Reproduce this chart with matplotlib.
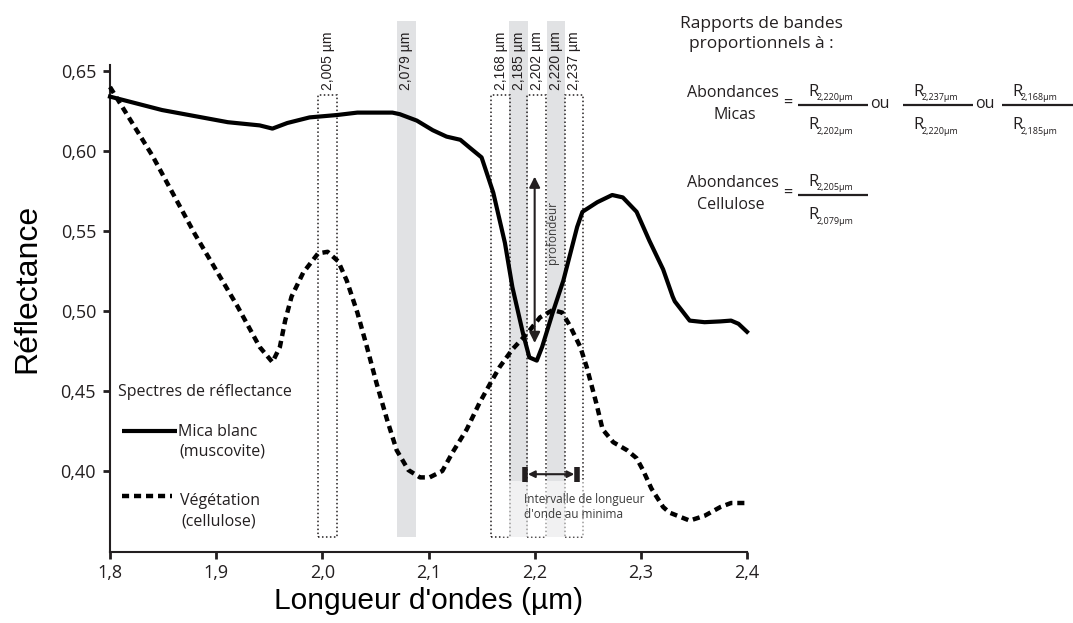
import matplotlib
matplotlib.use('Agg')
import matplotlib.pyplot as plt
from matplotlib.patches import Rectangle

# ---- spectra (wavelength in µm, reflectance) ----
wl_mica = [1.80, 1.849, 1.911, 1.941, 1.953, 1.967, 1.988, 2.014, 2.033, 2.066,
           2.073, 2.089, 2.104, 2.117, 2.130, 2.139, 2.150, 2.161, 2.172, 2.179,
           2.189, 2.195, 2.202, 2.207, 2.217, 2.227, 2.240, 2.245, 2.259, 2.273,
           2.283, 2.296, 2.308, 2.321, 2.330, 2.332, 2.346, 2.360, 2.375, 2.385,
           2.392, 2.400]
r_mica = [0.634, 0.6256, 0.618, 0.616, 0.614, 0.6175, 0.621, 0.6225, 0.624, 0.624,
          0.623, 0.619, 0.613, 0.609, 0.607, 0.602, 0.596, 0.574, 0.5425, 0.515,
          0.486, 0.471, 0.469, 0.4775, 0.499, 0.519, 0.5525, 0.562, 0.568, 0.5725,
          0.571, 0.562, 0.544, 0.526, 0.509, 0.506, 0.494, 0.493, 0.4935, 0.494,
          0.492, 0.487]

wl_veg = [1.80, 1.84, 1.88, 1.92, 1.941, 1.953, 1.960, 1.965, 1.971, 1.982,
          1.996, 2.005, 2.015, 2.023, 2.033, 2.042, 2.051, 2.061, 2.070, 2.081,
          2.092, 2.101, 2.113, 2.123, 2.136, 2.148, 2.158, 2.167, 2.179, 2.193,
          2.205, 2.217, 2.226, 2.233, 2.243, 2.249, 2.258, 2.264, 2.274, 2.287,
          2.296, 2.302, 2.310, 2.321, 2.327, 2.346, 2.360, 2.375, 2.385, 2.400]
r_veg = [0.640, 0.597, 0.548, 0.503, 0.4775, 0.468, 0.4775, 0.494, 0.509, 0.524,
         0.536, 0.537, 0.531, 0.519, 0.499, 0.4775, 0.455, 0.432, 0.413, 0.4006,
         0.396, 0.396, 0.400, 0.412, 0.426, 0.4425, 0.4545, 0.465, 0.476, 0.486,
         0.496, 0.5006, 0.499, 0.491, 0.4775, 0.465, 0.4425, 0.426, 0.418, 0.413,
         0.408, 0.4006, 0.389, 0.3775, 0.374, 0.369, 0.372, 0.3775, 0.380, 0.380]

# band centres used in the ratios
grey_bands = [2.079, 2.185, 2.220]
dotted_bands = [2.005, 2.168, 2.202, 2.237]

# depth arrow and width-at-minimum arrow
depth_wl = 2.200
depth_lo, depth_hi = 0.480, 0.584
interval_lo, interval_hi = 2.191, 2.240
interval_r = 0.398

x_ticks = [1.8, 1.9, 2.0, 2.1, 2.2, 2.3, 2.4]
x_tick_labels = ['1,8', '1,9', '2,0', '2,1', '2,2', '2,3', '2,4']
y_ticks = [0.40, 0.45, 0.50, 0.55, 0.60, 0.65]
y_tick_labels = ['0,40', '0,45', '0,50', '0,55', '0,60', '0,65']

ink = '#231f20'
band_grey = '#e1e2e4'
sans = 'Open Sans'
helv = 'Liberation Sans'

W, H = 1073, 623
fig = plt.figure(figsize=(W / 100, H / 100), dpi=100)
ax = fig.add_axes([110 / W, 1 - 552 / H, 637 / W, 487 / H])
ax.set_xlim(1.8, 2.4)
ax.set_ylim(0.349375, 0.65375)

for s in ('top', 'right'):
    ax.spines[s].set_visible(False)
for s in ('left', 'bottom'):
    ax.spines[s].set_color(ink)
    ax.spines[s].set_linewidth(1.5)
ax.tick_params(direction='out', length=5, width=2, color=ink,
               labelsize=13, labelcolor=ink)
ax.tick_params(axis='y', pad=5)
ax.set_xticks(x_ticks, x_tick_labels, fontfamily=sans)
ax.set_yticks(y_ticks, y_tick_labels, fontfamily=sans)

ax.set_xlabel("Longueur d'ondes (µm)", fontsize=21.5, family=helv, labelpad=4)
fig.text(27 / W, 1 - 288 / H, 'Réflectance', rotation=90, fontsize=23,
         family=helv, ha='center', va='center')

# absorption bands
hw = 0.0088
band_bot, band_top, box_top = 0.359, 0.681, 0.635
for c in grey_bands:
    ax.add_patch(Rectangle((c - hw, band_bot), 2 * hw, band_top - band_bot,
                           fc=band_grey, ec='none', clip_on=False, zorder=0))
for c in dotted_bands:
    ax.add_patch(Rectangle((c - hw, band_bot), 2 * hw, box_top - band_bot,
                           fill=False, ec=ink, lw=1.1, ls=(0, (1, 1.6)),
                           clip_on=False, zorder=1))
for c in sorted(grey_bands + dotted_bands):
    ax.text(c, 0.638, f'{c:.3f}'.replace('.', ',') + ' µm', rotation=90,
            ha='center', va='bottom', fontsize=10, family=helv, color=ink,
            zorder=2)

# veil behind the interval caption
ax.add_patch(Rectangle((2.168, band_bot), 0.09, 0.3935 - band_bot,
                       fc='white', ec='none', alpha=0.55, zorder=1.5))

# spectra
ax.plot(wl_mica, r_mica, color='black', lw=3.0, solid_joinstyle='round',
        zorder=4, clip_on=False)
ax.plot(wl_veg, r_veg, color='black', lw=3.2, ls=(0, (1.6, 1.1)),
        dash_capstyle='butt', zorder=4, clip_on=False)

# depth arrow
ax.annotate('', xy=(depth_wl, depth_lo), xytext=(depth_wl, depth_hi),
            arrowprops=dict(arrowstyle='<|-|>', color=ink, lw=1.5,
                            mutation_scale=16, shrinkA=0, shrinkB=0), zorder=5)
ax.text(depth_wl + 0.017, (depth_lo + depth_hi) / 2 + 0.017, 'profondeur',
        rotation=90, ha='center', va='center', fontsize=8.5, family=sans,
        color='#3a3a3a')

# width-at-minimum arrow with end bars
ax.annotate('', xy=(interval_lo, interval_r), xytext=(interval_hi, interval_r),
            arrowprops=dict(arrowstyle='<|-|>', color=ink, lw=1.5,
                            mutation_scale=10, shrinkA=2, shrinkB=2), zorder=5)
for xb in (interval_lo, interval_hi):
    ax.plot([xb, xb], [interval_r - 0.0048, interval_r + 0.0048], color=ink,
            lw=4, solid_capstyle='butt', zorder=5)
ax.text(interval_lo - 0.0015, 0.3865, "Intervalle de longueur\nd'onde au minima",
        ha='left', va='top', fontsize=8.5, family=sans, color='#3a3a3a',
        linespacing=1.2, zorder=5)

# overlay in pixel units for legend and ratio formulas
ov = fig.add_axes([0, 0, 1, 1], zorder=5)
ov.set_xlim(0, W)
ov.set_ylim(H, 0)
ov.axis('off')

ov.text(118, 392, 'Spectres de réflectance', fontsize=11.5, family=sans,
        color=ink, va='center')
ov.plot([122, 177], [431, 431], color='black', lw=3.0, solid_capstyle='butt')
ov.text(178, 432, 'Mica blanc', fontsize=11.5, family=sans, color=ink,
        va='center')
ov.text(179, 451, '(muscovite)', fontsize=11.5, family=sans, color=ink,
        va='center')
ov.plot([122, 172], [496, 496], color='black', lw=3.2, ls=(0, (1.6, 1.1)),
        dash_capstyle='butt')
ov.text(180, 501, 'Végétation', fontsize=11.5, family=sans, color=ink,
        va='center')
ov.text(181, 522, '(cellulose)', fontsize=11.5, family=sans, color=ink,
        va='center')

ov.text(761, 34, 'Rapports de bandes\nproportionnels à :', fontsize=12.5,
        family=sans, color=ink, ha='center', va='center', linespacing=1.25)


def ratio(x0, x1, y, num, den):
    ov.plot([x0, x1], [y, y], color=ink, lw=1.6, solid_capstyle='butt')
    for sub, yr in ((num, y - 13), (den, y + 20)):
        ov.text(x0 + 10, yr, 'R', fontsize=12, family=sans, color=ink,
                ha='left', va='center')
        ov.text(x0 + 19, yr + 6, sub, fontsize=6.5, family=sans, color=ink,
                ha='left', va='center')


ov.text(733, 93, 'Abondances', fontsize=11.5, family=sans, color=ink,
        ha='center', va='center')
ov.text(735, 115, 'Micas', fontsize=11.5, family=sans, color=ink,
        ha='center', va='center')
ov.text(788, 104, '=', fontsize=11.5, family=sans, color=ink, ha='center',
        va='center')
ratio(798, 868, 105, '2,220µm', '2,202µm')
ov.text(880, 104, 'ou', fontsize=11.5, family=sans, color=ink, ha='center',
        va='center')
ratio(903, 973, 105, '2,237µm', '2,220µm')
ov.text(985, 104, 'ou', fontsize=11.5, family=sans, color=ink, ha='center',
        va='center')
ratio(1002, 1073, 105, '2,168µm', '2,185µm')

ov.text(733, 183, 'Abondances', fontsize=11.5, family=sans, color=ink,
        ha='center', va='center')
ov.text(731, 205, 'Cellulose', fontsize=11.5, family=sans, color=ink,
        ha='center', va='center')
ov.text(788, 194, '=', fontsize=11.5, family=sans, color=ink, ha='center',
        va='center')
ratio(798, 868, 195, '2,205µm', '2,079µm')

fig.savefig('out.png', dpi=100)
